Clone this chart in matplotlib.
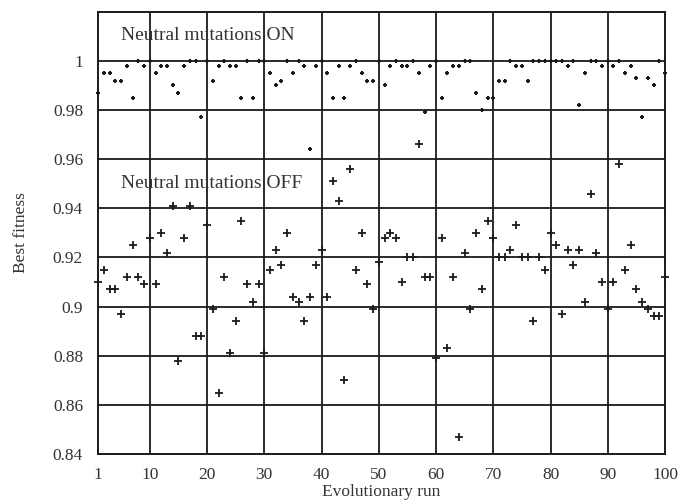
"""Best fitness per evolutionary run, with and without neutral mutations.

Writes out.png (685x503). Run:  python3 plot.py
"""

import matplotlib
matplotlib.use("Agg")
import matplotlib.pyplot as plt

# run index 1..100
RUNS = list(range(1, 101))

FITNESS_ON = [
    0.987, 0.995, 0.995, 0.992, 0.992, 0.998, 0.985, 1.000, 0.998, 1.000,
    0.995, 0.998, 0.998, 0.990, 0.987, 0.998, 1.000, 1.000, 0.977, 1.000,
    0.992, 0.998, 1.000, 0.998, 0.998, 0.985, 1.000, 0.985, 1.000, 1.000,
    0.995, 0.990, 0.992, 1.000, 0.995, 1.000, 0.998, 0.964, 0.998, 1.000,
    0.995, 0.985, 0.998, 0.985, 0.998, 1.000, 0.995, 0.992, 0.992, 1.000,
    0.990, 0.998, 1.000, 0.998, 0.998, 1.000, 0.995, 0.979, 0.998, 1.000,
    0.985, 0.995, 0.998, 0.998, 1.000, 1.000, 0.987, 0.980, 0.985, 0.985,
    0.992, 0.992, 1.000, 0.998, 0.998, 0.992, 1.000, 1.000, 1.000, 1.000,
    1.000, 1.000, 0.998, 1.000, 0.982, 0.995, 1.000, 1.000, 0.998, 1.000,
    0.998, 1.000, 0.995, 0.998, 0.993, 0.977, 0.993, 0.990, 1.000, 0.995,
]

FITNESS_OFF = [
    0.910, 0.915, 0.907, 0.907, 0.897, 0.912, 0.925, 0.912, 0.909, 0.928,
    0.909, 0.930, 0.922, 0.941, 0.878, 0.928, 0.941, 0.888, 0.888, 0.933,
    0.899, 0.865, 0.912, 0.881, 0.894, 0.935, 0.909, 0.902, 0.909, 0.881,
    0.915, 0.923, 0.917, 0.930, 0.904, 0.902, 0.894, 0.904, 0.917, 0.923,
    0.904, 0.951, 0.943, 0.870, 0.956, 0.915, 0.930, 0.909, 0.899, 0.918,
    0.928, 0.930, 0.928, 0.910, 0.920, 0.920, 0.966, 0.912, 0.912, 0.879,
    0.928, 0.883, 0.912, 0.847, 0.922, 0.899, 0.930, 0.907, 0.935, 0.928,
    0.920, 0.920, 0.923, 0.933, 0.920, 0.920, 0.894, 0.920, 0.915, 0.930,
    0.925, 0.897, 0.923, 0.917, 0.923, 0.902, 0.946, 0.922, 0.910, 0.899,
    0.910, 0.958, 0.915, 0.925, 0.907, 0.902, 0.899, 0.896, 0.896, 0.912,
]

X_TICKS = [1, 10, 20, 30, 40, 50, 60, 70, 80, 90, 100]
Y_TICKS = [0.84, 0.86, 0.88, 0.90, 0.92, 0.94, 0.96, 0.98, 1.00]
Y_TICK_LABELS = ["0.84", "0.86", "0.88", "0.9", "0.92", "0.94", "0.96", "0.98", "1"]

SERIF = ["Liberation Serif", "DejaVu Serif"]
INK = "#1a1a1a"
TEXT = "#333333"


def make_figure():
    plt.rcParams["font.family"] = SERIF
    fig = plt.figure(figsize=(6.85, 5.03), dpi=100)
    ax = fig.add_axes([0.1435, 0.0974, 0.8273, 0.8793])

    # grid drawn as plain lines so it sits under the markers
    for x in X_TICKS[1:-1]:
        ax.axvline(x, color=INK, lw=1.3, zorder=1)
    for y in Y_TICKS[1:]:
        ax.axhline(y, color=INK, lw=1.3, zorder=1)

    ax.plot(RUNS, FITNESS_ON, ls="none", marker="+", ms=3.5, mew=1.5,
            color=INK, zorder=3, clip_on=False)
    ax.plot(RUNS, FITNESS_OFF, ls="none", marker="+", ms=6.3, mew=1.3,
            color=INK, zorder=3, clip_on=False)

    ax.set_xlim(1, 100)
    ax.set_ylim(0.84, 1.02)
    ax.set_xticks(X_TICKS)
    ax.set_yticks(Y_TICKS)
    ax.set_yticklabels(Y_TICK_LABELS)
    ax.tick_params(length=0, labelsize=12.5, colors=TEXT)
    ax.tick_params(axis="y", pad=11)
    ax.tick_params(axis="x", pad=9)
    for side in ax.spines.values():
        side.set_linewidth(1.4)
        side.set_color(INK)
        side.set_zorder(4)

    ax.text(4.9, 1.0103, "Neutral mutations ON", fontsize=14, color=TEXT,
            va="center", ha="left")
    ax.text(4.9, 0.9500, "Neutral mutations OFF", fontsize=14, color=TEXT,
            va="center", ha="left")

    ax.set_xlabel("Evolutionary run", fontsize=12.5, color=TEXT, labelpad=1)
    ax.set_ylabel("Best fitness", fontsize=12.5, color=TEXT, labelpad=17)

    fig.savefig("out.png", dpi=100)


def main():
    make_figure()


if __name__ == "__main__":
    main()
